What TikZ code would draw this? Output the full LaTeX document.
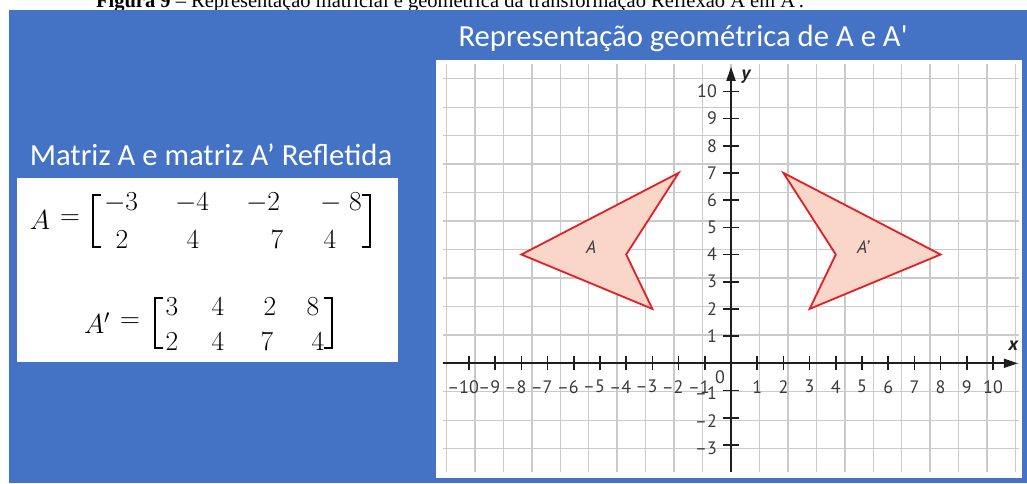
\documentclass[tikz,border=0pt]{standalone}
\usepackage{fix-cm}
\usepackage{fontspec}
\usetikzlibrary{arrows.meta}
\newfontfamily\calib{Carlito}
\newfontfamily\timesf{Liberation Serif}
\newfontfamily\axf{PT Sans}
\definecolor{bgblue}{HTML}{4472C4}
\definecolor{gridgray}{HTML}{CACACA}
\definecolor{axblack}{HTML}{1E1E1E}
\definecolor{labgray}{HTML}{3A3A3A}
\definecolor{shapered}{HTML}{E31E24}
\definecolor{shapefill}{HTML}{F9D6C8}
\begin{document}
\begin{tikzpicture}[x=1pt,y=-1pt,
  titletext/.style={text=white,font=\calib\fontsize{30.7}{36}\selectfont,inner sep=0pt},
  ent/.style={font=\fontsize{27.5}{32}\selectfont,inner sep=0pt},
  brk/.style={line width=1.4pt,draw=black},
  gridline/.style={draw=gridgray,line width=1.4pt},
  axisline/.style={line width=1.8pt,draw=axblack,-{Triangle[length=14pt,width=9pt]}},
  tickline/.style={line width=1.6pt,draw=axblack},
  tl/.style={font=\axf\fontsize{18}{20}\selectfont,text=labgray,inner sep=0pt},
  polyshape/.style={draw=shapered,fill=shapefill,line width=1.8pt,line join=miter}]
\useasboundingbox (0,0) rectangle (1027,483);
% caption (cut off at top)
\begin{scope}
\clip (0,0) rectangle (1027,10);
\node[anchor=base,inner sep=0pt,font=\timesf\fontsize{20.5}{24}\selectfont] (cap) at (450,7.5)
  {\textbf{Figura 9} – Representação matricial e geométrica da transformação Reflexão A em A\textquotesingle.};
\end{scope}
% blue background
\fill[bgblue] (9,10) rectangle (1027,483);
% titles
\node[titletext] (t1) at (683,38) {Representação geométrica de A e A\textquotesingle};
\node[titletext] (t2) at (211,155) {Matriz A e matriz A’ Refletida};
% left white box
\fill[white] (17,178) rectangle (398,362);
% matrix A
\node[ent] (aA) at (40,220) {$A$};
\node[ent] (aeq) at (70,220) {$=$};
\draw[brk] (101,195) -- (93,195) -- (93,247) -- (101,247);
\draw[brk] (362,195) -- (370,195) -- (370,247) -- (362,247);
\node[ent] (a11) at (121,203) {$-3$};
\node[ent] (a12) at (192,203) {$-4$};
\node[ent] (a13) at (263,203) {$-2$};
\node[ent] (a14) at (341,203) {$-\;8$};
\node[ent] (a21) at (122,240) {$2$};
\node[ent] (a22) at (193,240) {$4$};
\node[ent] (a23) at (277,240) {$7$};
\node[ent] (a24) at (330,240) {$4$};
% matrix A'
\node[ent] (bA) at (97,323) {$A'$};
\node[ent] (beq) at (130,323) {$=$};
\draw[brk] (163,298) -- (155,298) -- (155,348) -- (163,348);
\draw[brk] (324,298) -- (332,298) -- (332,348) -- (324,348);
\node[ent] (b11) at (172,307) {$3$};
\node[ent] (b12) at (218,307) {$4$};
\node[ent] (b13) at (270,307) {$2$};
\node[ent] (b14) at (313,307) {$8$};
\node[ent] (b21) at (172,342) {$2$};
\node[ent] (b22) at (218,342) {$4$};
\node[ent] (b23) at (267,342) {$7$};
\node[ent] (b24) at (318,342) {$4$};
% graph panel
\fill[white] (436,60) rectangle (1022,478);
\begin{scope}[shift={(731pt,-363.3pt)},x=26.2pt,y=27.2pt]
  \draw[gridline] (-11,-4) grid (11,11);
  \draw[polyshape] (-8,4) -- (-2,7) -- (-4,4) -- (-3,2) -- cycle;
  \draw[polyshape] (8,4) -- (2,7) -- (4,4) -- (3,2) -- cycle;
  \node[tl,font=\axf\itshape\fontsize{18}{20}\selectfont] (lA) at (-5.34,4.29) {A};
  \node[tl,font=\axf\itshape\fontsize{18}{20}\selectfont] (lAp) at (5.04,4.29) {A’};
  \coordinate (xs) at (-11,0);
  \coordinate (xe) at (10.95,0);
  \coordinate (ys) at (0,-4);
  \coordinate (ye) at (0,10.9);
  \draw[axisline] (xs) -- (xe);
  \draw[axisline] (ys) -- (ye);
  \foreach \i in {-10,...,-1,1,2,...,10} {
    \draw[tickline] ([yshift=-7pt]\i,0) -- ([yshift=7pt]\i,0);
  }
  \foreach \i in {-3,...,-1,1,2,...,10} {
    \draw[tickline] ([xshift=-8pt]0,\i) -- ([xshift=8pt]0,\i);
  }
  \foreach \i in {1,...,10} {
    \node[tl,yshift=-23.4pt] (xl\i) at (\i,0) {\i};
    \node[tl,yshift=-23.4pt] (xn\i) at (-\i,0) {\llap{–}\i};
    \node[tl,anchor=east,xshift=-14pt] (yl\i) at (0,\i) {\i};
  }
  \foreach \i in {1,2,3} {
    \node[tl,anchor=east,xshift=-14pt,yshift=-3pt] (yn\i) at (0,-\i) {–\i};
  }
  \node[tl,xshift=-11pt,yshift=-13.4pt] (zero) at (0,0) {0};
  \node[tl,font=\axf\bfseries\itshape\fontsize{19}{21}\selectfont,text=axblack,xshift=-6pt,yshift=18pt] (xlab) at (11,0) {x};
  \node[tl,font=\axf\bfseries\itshape\fontsize{19}{21}\selectfont,text=axblack,xshift=15pt,yshift=-13pt] (ylab) at (0,11) {y};
\end{scope}
\end{tikzpicture}
\end{document}
